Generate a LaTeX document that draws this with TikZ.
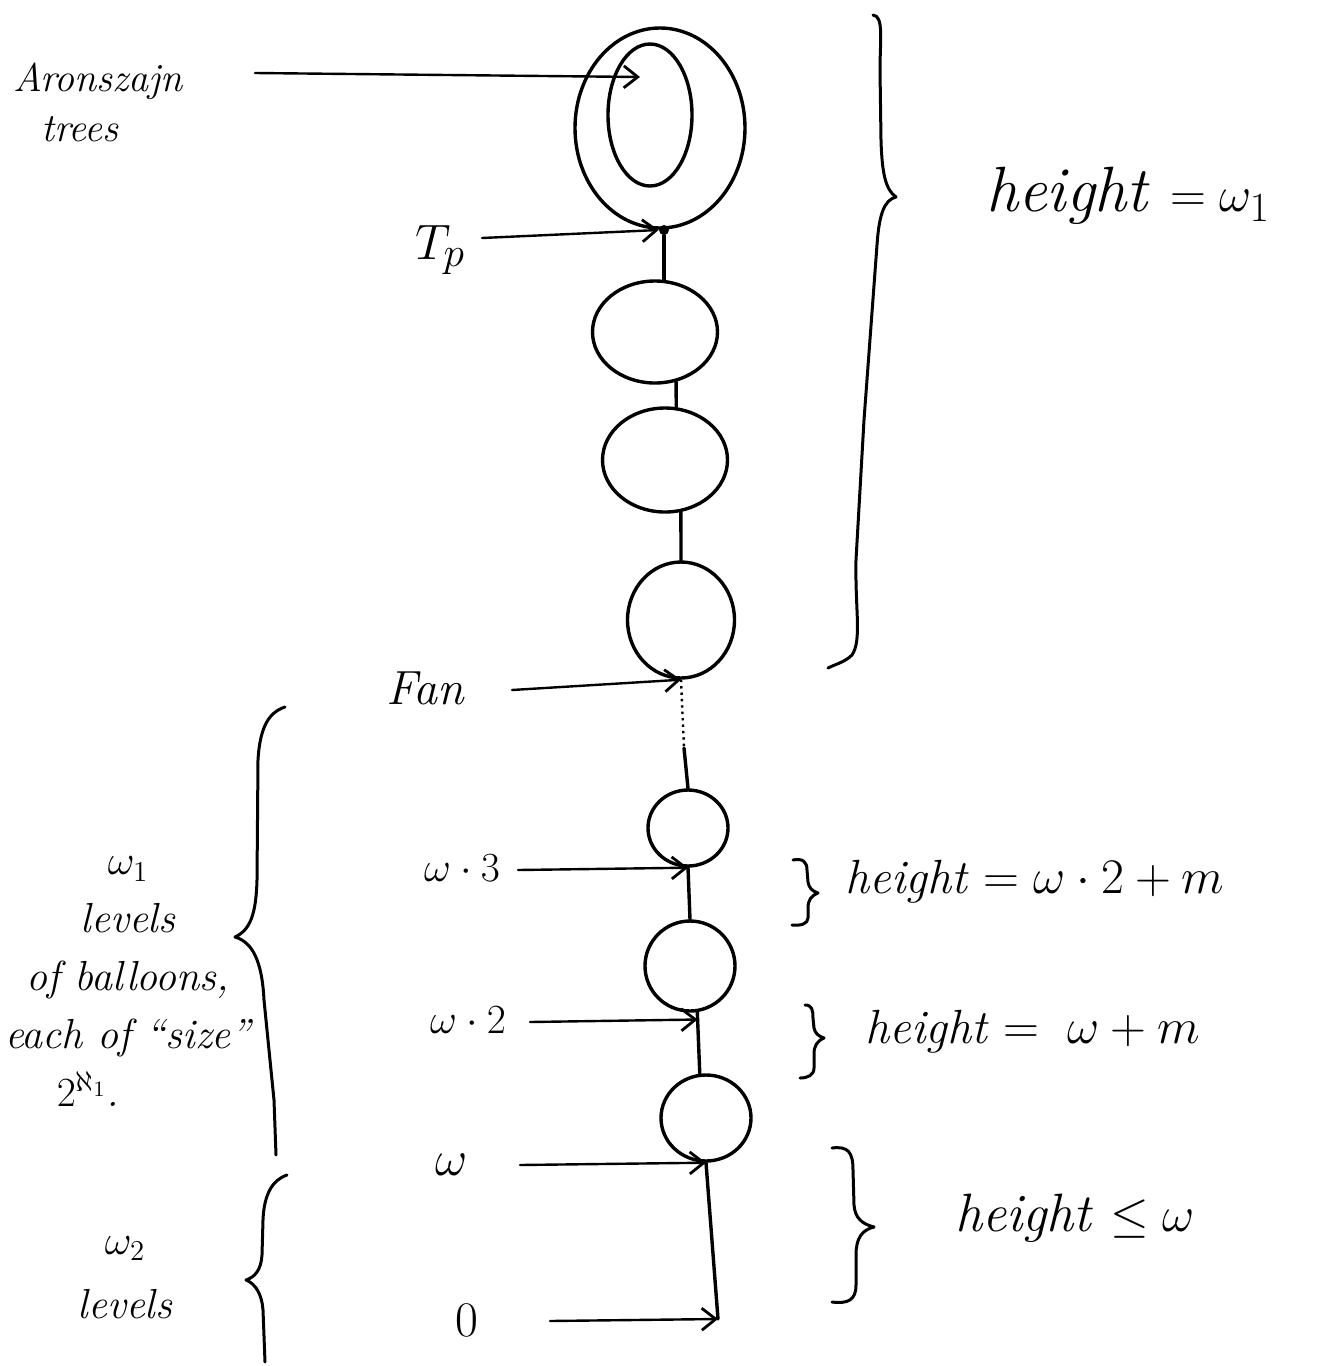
\documentclass[tikz,border=0pt]{standalone}
\usetikzlibrary{arrows.meta,shapes.geometric}
\begin{document}
\begin{tikzpicture}[x=0.5pt,y=-0.5pt,
  ink/.style={line width=1.7pt, line cap=round, line join=round},
  balloon/.style={ink, draw, ellipse, inner sep=0pt},
  stem/.style={ink},
  pointer/.style={line width=1.2pt, line cap=round,
    -{Straight Barb[length=7pt,width=11pt,line width=1.4pt]}},
  brace/.style={line width=1.5pt, line cap=round, line join=round},
  word/.style={inner sep=0pt, font=\fontsize{20}{24}\selectfont\itshape},
  tag/.style={inner sep=0pt, font=\fontsize{22}{26}\selectfont},
  bigword/.style={inner sep=0pt, font=\fontsize{28}{32}\selectfont\itshape},
]
\useasboundingbox (0,0) rectangle (1317,1366);

% the tower of balloons
\node[balloon, minimum width=85pt, minimum height=100pt] (b0) at (660,128) {};
\node[balloon, minimum width=42pt, minimum height=71pt] (b0in) at (650,115) {};
\node[circle, fill, inner sep=0pt, minimum size=5pt] (tp) at (664,230) {};
\node[balloon, minimum width=62.5pt, minimum height=51pt] (b1) at (655,332) {};
\node[balloon, minimum width=62.5pt, minimum height=52pt] (b2) at (665,460) {};
\node[balloon, minimum width=53.5pt, minimum height=58pt] (b3) at (681,620) {};
\node[balloon, minimum width=40pt, minimum height=38pt] (b4) at (688,828) {};
\node[balloon, minimum width=45pt, minimum height=45pt] (b5) at (690,966) {};
\node[balloon, minimum width=45pt, minimum height=43pt] (b6) at (706,1118) {};
\coordinate (gap) at (684,748);
\coordinate (root) at (718,1319);
\coordinate (ain) at (640,77);

% stems between balloons
\draw[stem] (tp) -- (tp |- b1.north);
\draw[stem] (b1.-67) -- (b2.78);
\draw[stem] (b2.-73) -- (b3.north);
\draw[line width=1.2pt, dotted] (b3.south) -- (gap);
\draw[stem] (gap) -- (b4.north);
\draw[stem] (b4.south) -- (b5.north);
\draw[stem] (b5.-81) -- (b6.98) coordinate[pos=0.12] (c2);
\draw[stem] (b6.south) -- (root);

% labels on the left with their arrows
\node[word, align=left, font=\fontsize{20}{27}\selectfont\itshape] (aron) at (98,102)
  {Aronszajn\\[-2pt]\hspace{14pt}trees};
\coordinate (aron0) at (255,73);
\draw[pointer] (aron0) -- (ain);

\node[tag, font=\fontsize{28}{32}\selectfont] (tpl) at (440,250) {$T_p$};
\coordinate (tp0) at (482,238);
\draw[pointer] (tp0) -- (tp.west);

\node[word, font=\fontsize{24}{28}\selectfont\itshape] (fan) at (425,688) {Fan};
\coordinate (fan0) at (512,690);
\draw[pointer] (fan0) -- (b3.south);

\node[tag] (w3) at (462,868) {$\omega\cdot 3$};
\coordinate (w30) at (518,870);
\draw[pointer] (w30) -- (b4.south);

\node[tag] (w2) at (468,1020) {$\omega\cdot 2$};
\coordinate (w20) at (530,1022);
\draw[pointer] (w20) -- (c2);

\node[tag, font=\fontsize{24}{28}\selectfont] (w1) at (452,1165) {$\omega$};
\coordinate (w10) at (520,1165);
\draw[pointer] (w10) -- (b6.south);

\node[tag, font=\fontsize{26}{30}\selectfont] (z) at (467,1320) {$0$};
\coordinate (z0) at (550,1321);
\draw[pointer] (z0) -- (root);

% braces and heights on the right
\draw[brace] (873,15) .. controls (884,16) and (880,40) .. (880,70)
  -- (881,140) .. controls (882,175) and (886,190) .. (896,197)
  .. controls (884,200) and (879,215) .. (877,245)
  -- (864,420) -- (856,560)
  .. controls (855,610) and (862,640) .. (852,655)
  .. controls (845,662) and (836,664) .. (828,668);
\node[bigword, font=\fontsize{32}{36}\selectfont\itshape] (h1) at (1128,196) {height $=\omega_1$};

\draw[brace] (793,860) .. controls (803,858) and (807,862) .. (807,870)
  -- (808,882) .. controls (809,888) and (812,891) .. (818,893)
  .. controls (811,896) and (808,900) .. (808,908)
  -- (808,918) .. controls (808,924) and (800,926) .. (792,925);
\node[bigword, font=\fontsize{24}{28}\selectfont\itshape] (h2) at (1035,882)
  {height $=\omega\cdot 2+m$};

\draw[brace] (805,1005) .. controls (812,1005) and (813,1010) .. (813,1018)
  -- (814,1028) .. controls (815,1033) and (818,1036) .. (824,1038)
  .. controls (817,1041) and (814,1046) .. (814,1054)
  -- (814,1068) .. controls (814,1075) and (808,1078) .. (800,1078);
\node[bigword, font=\fontsize{24}{28}\selectfont\itshape] (h3) at (1033,1032)
  {height $=\;\omega+m$};

\draw[brace] (832,1148) .. controls (848,1146) and (853,1152) .. (853,1170)
  -- (854,1205) .. controls (855,1218) and (862,1224) .. (874,1227)
  .. controls (862,1230) and (856,1238) .. (856,1255)
  -- (856,1285) .. controls (856,1300) and (848,1304) .. (832,1302);
\node[bigword, font=\fontsize{27}{31}\selectfont\itshape] (h4) at (1075,1218)
  {height $\leq\omega$};

% braces and counts on the left
\draw[brace] (285,707) .. controls (270,712) and (260,725) .. (258,760)
  -- (257,880) .. controls (256,915) and (250,930) .. (235,937)
  .. controls (252,942) and (262,960) .. (264,1000)
  -- (274,1100) -- (276,1155);
\node[word, align=center, font=\fontsize{21}{29}\selectfont\itshape] (lev1) at (128,982)
  {$\omega_1$\\levels\\of balloons,\\each of ``size''\\\hspace{-40pt}$2^{\aleph_1}$.};

\draw[brace] (287,1175) .. controls (272,1180) and (264,1195) .. (263,1220)
  -- (262,1255) .. controls (261,1270) and (255,1277) .. (246,1280)
  .. controls (256,1284) and (262,1295) .. (263,1310) -- (265,1362);
\node[word, align=center, font=\fontsize{21}{32}\selectfont\itshape] (lev2) at (125,1278)
  {$\omega_2$\\levels};
\end{tikzpicture}
\end{document}
